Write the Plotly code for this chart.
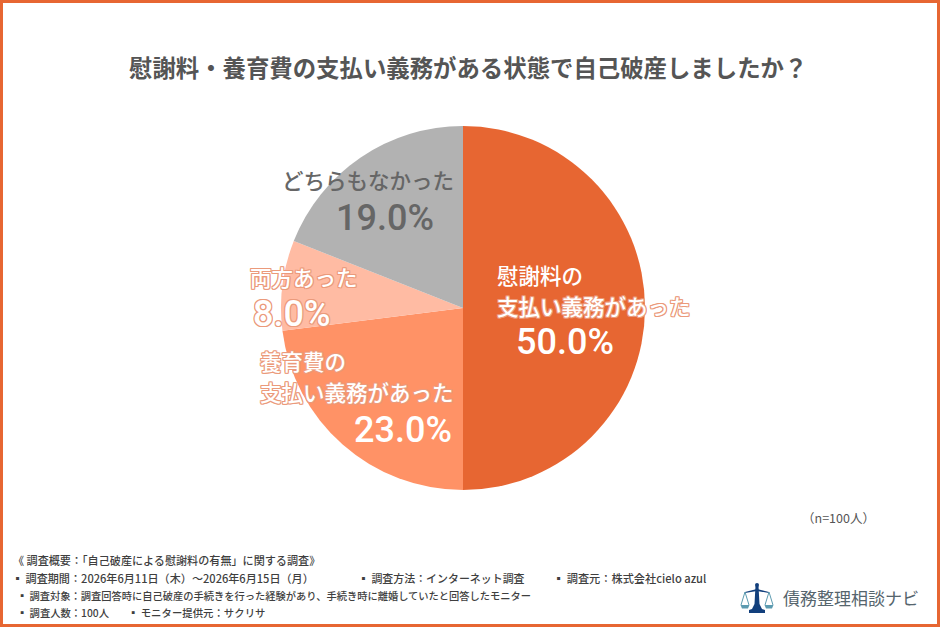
import plotly.graph_objects as go

# Survey results
answers = ["慰謝料の<br>支払い義務があった", "養育費の<br>支払い義務があった", "両方あった", "どちらもなかった"]
shares = [50.0, 23.0, 8.0, 19.0]
slice_colors = ["#E76632", "#FF9266", "#FFBBA3", "#B2B2B2"]

title_text = "慰謝料・養育費の支払い義務がある状態で自己破産しましたか？"
sample_note = "（n=100人）"
brand_name = "債務整理相談ナビ"
survey_notes = [
    "《 調査概要：「自己破産による慰謝料の有無」に関する調査》",
    "▪ 調査期間：2026年6月11日（木）～2026年6月15日（月）",
    "▪ 調査方法：インターネット調査",
    "▪ 調査元：株式会社cielo azul",
    "▪ 調査対象：調査回答時に自己破産の手続きを行った経験があり、手続き時に離婚していたと回答したモニター",
    "▪ 調査人数：100人",
    "▪ モニター提供元：サクリサ",
]

W, H = 940, 627
CJK = "Noto Sans CJK JP"
NUMERIC = "Roboto"
ACCENT = "#E76632"
NAVY = "#123F7C"
TEAL = "#5C9BB0"

# Placement of each survey note: left edge, vertical centre, font size
note_slots = [
    (11, 560, 11.1),
    (10, 578, 11.1),
    (356, 578, 10.95),
    (551, 578, 11.2),
    (15, 595, 10.25),
    (15, 612, 10.3),
    (125.5, 612, 10.4),
]


def px(x):
    return x / W


def py(y):
    return 1 - y / H


def outline(color, r=1):
    # Thin contour around light lettering, built from offset text shadows
    steps = [(-r, -r), (r, -r), (-r, r), (r, r), (0, -r), (0, r), (-r, 0), (r, 0)]
    return ", ".join(f"{a}px {b}px 0 {color}" for a, b in steps)


def label(text, x, y, size, color, weight=400, anchor="left", shadow=None, family=CJK):
    font = dict(family=family, size=size, color=color, weight=weight)
    if shadow:
        font["shadow"] = shadow
    return dict(text=text, x=px(x), y=py(y), xref="paper", yref="paper",
                xanchor=anchor, yanchor="middle", showarrow=False,
                align=anchor, font=font)


def value(share, x, y, color, shadow=None):
    return label(f"{share:.1f}%", x, y, 36, color, 500, "center", shadow, NUMERIC)


def path(points, close=True):
    head = " L ".join(f"{px(x):.5f} {py(y):.5f}" for x, y in points)
    return "M " + head + (" Z" if close else "")


def poly(points, color):
    return dict(type="path", xref="paper", yref="paper", path=path(points),
                fillcolor=color, line=dict(width=0), layer="above")


def stroke(points, color, width=1):
    return dict(type="path", xref="paper", yref="paper", path=path(points, False),
                line=dict(color=color, width=width), layer="above")


pie = go.Pie(
    values=shares,
    labels=[a.replace("<br>", "") for a in answers],
    sort=False,
    direction="clockwise",
    rotation=0,
    marker=dict(colors=slice_colors, line=dict(width=0)),
    textinfo="none",
    hoverinfo="label+percent",
    showlegend=False,
    domain=dict(x=[px(281), px(645)], y=[py(490), py(126)]),
)

contour = outline("#EB9A7B")
annotations = [
    label(title_text, 468, 67, 23.4, "#555555", 700, "center"),
    label(sample_note, 838, 517, 12.5, "#555555", 400, "center"),
    label(brand_name, 781, 597, 17, "#56656D", 400),

    label(answers[0].split("<br>")[0], 495, 274, 21.5, "#FFFFFF", 500),
    label(answers[0].split("<br>")[1], 495, 305, 21.5, "#FFFFFF", 500, shadow=contour),
    value(shares[0], 565, 342, "#FFFFFF"),

    label(answers[1].split("<br>")[0], 258, 360, 21.5, "#FFFFFF", 500, shadow=contour),
    label(answers[1].split("<br>")[1], 258, 391, 21.5, "#FFFFFF", 500, shadow=contour),
    value(shares[1], 403, 430, "#FFFFFF"),

    label(answers[2], 248, 276, 21.5, "#FFFFFF", 500, shadow=contour),
    value(shares[2], 291, 314, "#FFFFFF", contour),

    label(answers[3], 280, 180, 21.5, "#666666", 500),
    value(shares[3], 385, 218, "#666666"),
]
annotations += [
    label(text, x, y, size, "#3F3F3F", 500)
    for text, (x, y, size) in zip(survey_notes, note_slots)
]

shapes = [
    # Page frame
    dict(type="rect", xref="paper", yref="paper", x0=px(1.5), x1=px(W - 1.5),
         y0=py(H - 1.5), y1=py(1.5), line=dict(color=ACCENT, width=3),
         fillcolor="rgba(0,0,0,0)", layer="above"),
    # Scales emblem beside the brand name
    poly([(755.5, 586), (758.5, 586), (759.5, 604), (762, 609), (765, 610),
          (765, 613), (749, 613), (749, 610), (752, 609), (754.5, 604)], NAVY),
    dict(type="circle", xref="paper", yref="paper", x0=px(755), x1=px(759),
         y0=py(587), y1=py(583), fillcolor=NAVY, line=dict(width=0), layer="above"),
    poly([(745, 592), (757, 589), (769, 592), (769, 593), (757, 591), (745, 593)], NAVY),
    stroke([(741, 605), (745, 592), (749, 605)], TEAL),
    stroke([(765, 605), (769, 592), (773, 605)], TEAL),
    poly([(740.5, 605), (749.5, 605), (748, 608.5), (742, 608.5)], TEAL),
    poly([(764.5, 605), (773.5, 605), (772, 608.5), (766, 608.5)], TEAL),
]

fig = go.Figure(pie)
fig.update_layout(
    width=W,
    height=H,
    margin=dict(l=0, r=0, t=0, b=0),
    paper_bgcolor="#FFFFFF",
    annotations=annotations,
    shapes=shapes,
    font=dict(family=CJK),
)
fig.write_html("out.html")
